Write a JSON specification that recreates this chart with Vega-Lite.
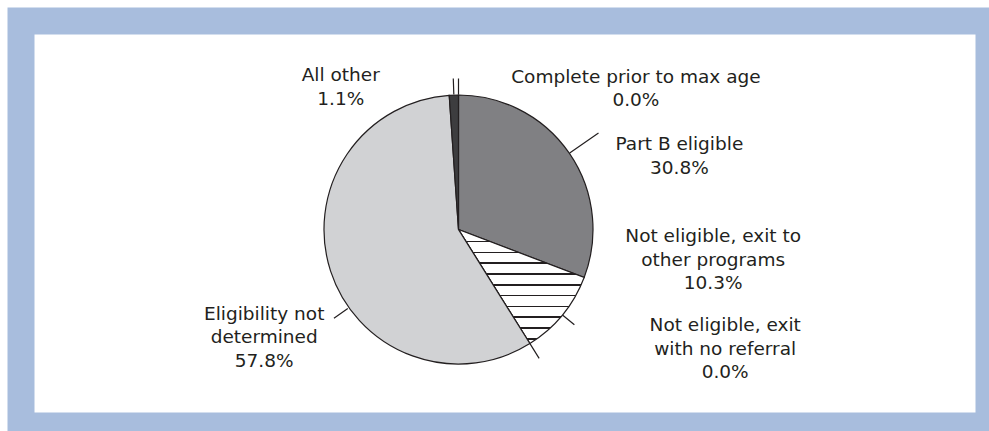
{
  "$schema": "https://vega.github.io/schema/vega-lite/v6.json",
  "width": 968,
  "height": 405,
  "autosize": {"type": "none"},
  "padding": {"left": 21, "top": 21, "right": 0, "bottom": 5},
  "background": "#ffffff",
  "view": {"stroke": "#a8bddd", "strokeWidth": 27, "fill": "#ffffff"},
  "config": {"view": {"stroke": "#a8bddd", "strokeWidth": 27, "fill": "#ffffff"}},
  "data": {
    "values": [
      {"idx": 1, "cat": "Complete prior to max age", "value": 0.0, "label": "Complete prior to max age\n0.0%"},
      {"idx": 2, "cat": "Part B eligible", "value": 30.8, "label": "Part B eligible\n30.8%"},
      {"idx": 3, "cat": "Not eligible, exit to other programs", "value": 10.3, "label": "Not eligible, exit to\nother programs\n10.3%"},
      {"idx": 4, "cat": "Not eligible, exit with no referral", "value": 0.0, "label": "Not eligible, exit\nwith no referral\n0.0%"},
      {"idx": 5, "cat": "Eligibility not determined", "value": 57.8, "label": "Eligibility not\ndetermined\n57.8%"},
      {"idx": 6, "cat": "All other", "value": 1.1, "label": "All other\n1.1%"}
    ]
  },
  "resolve": {"scale": {"theta": "independent"}},
  "layer": [
    {
      "mark": {"type": "arc", "x": 437.5, "y": 208.5, "radius": 134.5, "stroke": "#231f20", "strokeWidth": 1.2},
      "encoding": {
        "theta": {"field": "value", "type": "quantitative", "stack": true},
        "order": {"field": "idx", "type": "quantitative", "sort": "ascending"},
        "fill": {
          "field": "cat",
          "type": "nominal",
          "legend": null,
          "scale": {
            "domain": ["Complete prior to max age", "Part B eligible", "Not eligible, exit to other programs", "Not eligible, exit with no referral", "Eligibility not determined", "All other"],
            "range": ["#231f20", "#808083", "#ffffff", "#ffffff", "#d1d2d4", "#3d3d3f"]
          },
          "condition": {
            "test": "datum.idx === 3",
            "value": {
              "gradient": "linear", "x1": 0, "y1": 0, "x2": 0, "y2": 1,
              "stops": [
                {"offset": 0, "color": "#ffffff"},
                {"offset": 0.100, "color": "#ffffff"}, {"offset": 0.100, "color": "#231f20"}, {"offset": 0.114, "color": "#231f20"}, {"offset": 0.114, "color": "#ffffff"},
                {"offset": 0.1947, "color": "#ffffff"}, {"offset": 0.1947, "color": "#231f20"}, {"offset": 0.2087, "color": "#231f20"}, {"offset": 0.2087, "color": "#ffffff"},
                {"offset": 0.2894, "color": "#ffffff"}, {"offset": 0.2894, "color": "#231f20"}, {"offset": 0.3034, "color": "#231f20"}, {"offset": 0.3034, "color": "#ffffff"},
                {"offset": 0.3841, "color": "#ffffff"}, {"offset": 0.3841, "color": "#231f20"}, {"offset": 0.3981, "color": "#231f20"}, {"offset": 0.3981, "color": "#ffffff"},
                {"offset": 0.4788, "color": "#ffffff"}, {"offset": 0.4788, "color": "#231f20"}, {"offset": 0.4928, "color": "#231f20"}, {"offset": 0.4928, "color": "#ffffff"},
                {"offset": 0.5735, "color": "#ffffff"}, {"offset": 0.5735, "color": "#231f20"}, {"offset": 0.5875, "color": "#231f20"}, {"offset": 0.5875, "color": "#ffffff"},
                {"offset": 0.6682, "color": "#ffffff"}, {"offset": 0.6682, "color": "#231f20"}, {"offset": 0.6822, "color": "#231f20"}, {"offset": 0.6822, "color": "#ffffff"},
                {"offset": 0.7629, "color": "#ffffff"}, {"offset": 0.7629, "color": "#231f20"}, {"offset": 0.7769, "color": "#231f20"}, {"offset": 0.7769, "color": "#ffffff"},
                {"offset": 0.8576, "color": "#ffffff"}, {"offset": 0.8576, "color": "#231f20"}, {"offset": 0.8716, "color": "#231f20"}, {"offset": 0.8716, "color": "#ffffff"},
                {"offset": 0.9523, "color": "#ffffff"}, {"offset": 0.9523, "color": "#231f20"}, {"offset": 0.9663, "color": "#231f20"}, {"offset": 0.9663, "color": "#ffffff"},
                {"offset": 1, "color": "#ffffff"}
              ]
            }
          }
        }
      }
    },
    {
      "mark": {
        "type": "arc", "x": 437.5, "y": 208.5,
        "radius": {"expr": "[0,151,170,150,152,0,151][datum.idx]"},
        "radius2": 135,
        "padAngle": 3.1416,
        "fill": "transparent",
        "stroke": "#231f20",
        "strokeWidth": 1.2
      },
      "encoding": {
        "theta": {"field": "value", "type": "quantitative", "stack": true},
        "order": {"field": "idx", "type": "quantitative", "sort": "ascending"},
        "opacity": {"condition": {"test": "datum.idx === 5", "value": 0}, "value": 1}
      }
    },
    {
      "transform": [{"filter": "datum.idx === 5"}],
      "mark": {
        "type": "arc", "x": 437.5, "y": 208.5,
        "radius": 153, "radius2": 136,
        "padAngle": 3.1416,
        "fill": "transparent",
        "stroke": "#231f20",
        "strokeWidth": 1.2
      },
      "encoding": {
        "theta": {"field": "value", "type": "quantitative", "stack": true, "scale": {"range": [3.0456, 5.14]}}
      }
    },
    {
      "mark": {
        "type": "text", "x": 437.5, "y": 208.5,
        "font": "DejaVu Sans", "fontSize": 18.5, "lineHeight": 23.5, "lineBreak": "\n",
        "align": "center", "baseline": "alphabetic", "color": "#231f20",
        "dx": {"expr": "[0,177.4,64.4,107.9,165.9,-13.6,-111.2][datum.idx]"},
        "dy": {"expr": "[0,43.3,28.5,-107.9,-59.4,31.3,41.6][datum.idx]"}
      },
      "encoding": {
        "theta": {"field": "value", "type": "quantitative", "stack": true},
        "order": {"field": "idx", "type": "quantitative", "sort": "ascending"},
        "radius": {"value": 190},
        "text": {"field": "label", "type": "nominal"}
      }
    }
  ]
}
